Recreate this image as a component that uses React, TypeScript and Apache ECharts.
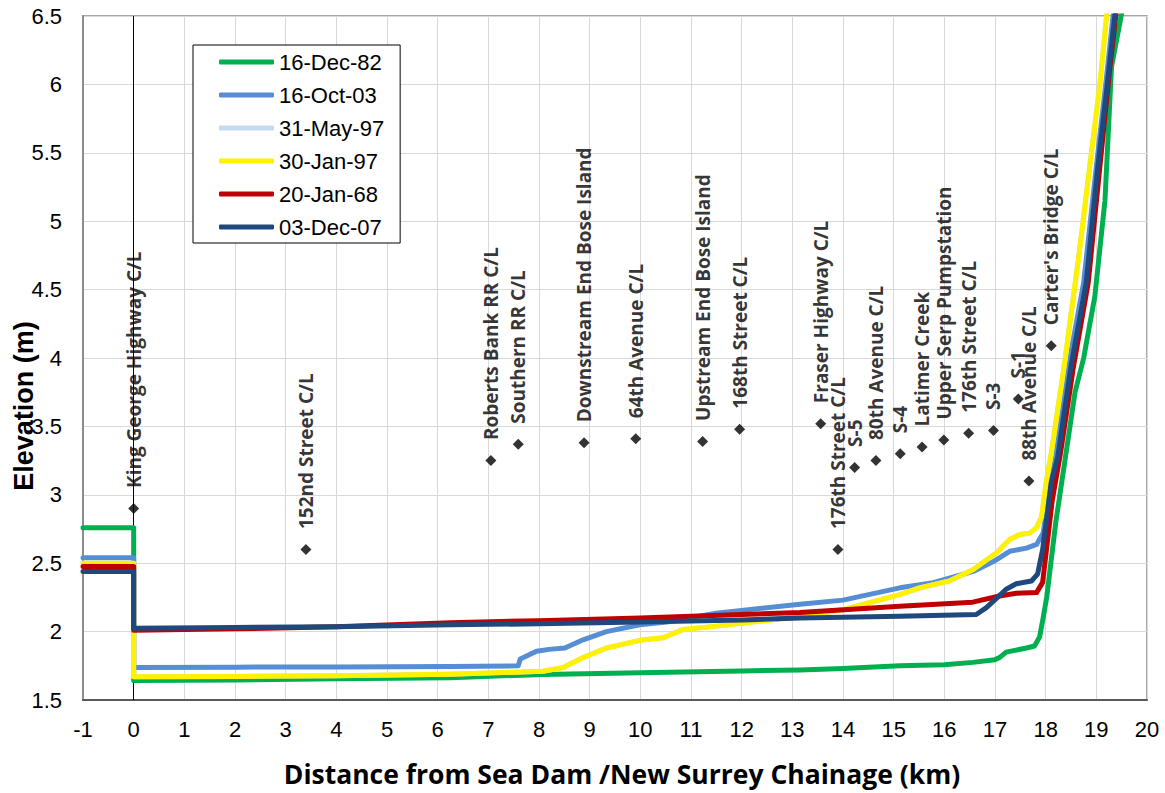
import React, { useEffect, useRef } from "react";
import * as echarts from "echarts";

// ---- Data ----
const xTicks = { min: -1, max: 20, interval: 1 };
const yTicks = { min: 1.5, max: 6.5, interval: 0.5 };

const seriesNames = ["16-Dec-82", "16-Oct-03", "31-May-97", "30-Jan-97", "20-Jan-68", "03-Dec-07"];
const seriesColors = ["#00B050", "#558ED5", "#C6D9F1", "#FFF200", "#C00000", "#1F497D"];

const dec82 = [
  [-1, 2.76], [0, 2.76], [0, 1.642], [2, 1.647], [4, 1.655], [6.25, 1.663], [8.08, 1.687], [10, 1.7],
  [12, 1.712], [13.15, 1.72], [14, 1.73], [15.12, 1.75], [16, 1.758], [16.56, 1.775], [17.0, 1.795],
  [17.09, 1.81], [17.22, 1.85], [17.62, 1.88], [17.78, 1.895], [17.88, 1.96], [17.95, 2.1], [18.02, 2.25],
  [18.2, 2.8], [18.38, 3.25], [18.58, 3.75], [18.75, 4.0], [18.97, 4.45], [19.17, 5.15], [19.3, 6.13],
  [19.49, 6.5], [19.55, 6.6],
];
const oct03 = [
  [-1, 2.54], [0, 2.54], [0, 1.737], [2, 1.74], [4, 1.742], [6.25, 1.744], [7.59, 1.75], [7.63, 1.8],
  [7.95, 1.857], [8.2, 1.87], [8.51, 1.88], [8.87, 1.94], [9.33, 2.0], [9.99, 2.05], [10.52, 2.07],
  [11.5, 2.135], [13.15, 2.2], [14, 2.23], [15.12, 2.32], [15.78, 2.357], [16.57, 2.44], [16.96, 2.51],
  [17.29, 2.587], [17.62, 2.61], [17.82, 2.637], [17.95, 2.72], [18.05, 2.965], [18.18, 3.33],
  [18.45, 3.94], [18.75, 4.55], [19.0, 5.4], [19.2, 6.05], [19.33, 6.5], [19.37, 6.6],
];
const may97 = [
  [-1, 2.5], [0, 2.5], [0, 1.67], [2, 1.672], [4, 1.677], [6.25, 1.688], [8.08, 1.71], [8.48, 1.737],
  [8.87, 1.81], [9.33, 1.88], [9.99, 1.936], [10.45, 1.955], [10.85, 2.016], [11.5, 2.04], [13.15, 2.11],
  [14, 2.16], [15.12, 2.27], [15.51, 2.32], [16.1, 2.37], [16.57, 2.454], [17.03, 2.576], [17.29, 2.673],
  [17.49, 2.71], [17.69, 2.72], [17.82, 2.76], [17.92, 2.84], [18.01, 3.09], [18.11, 3.3], [18.38, 3.98],
  [18.67, 4.79], [18.87, 5.4], [19.07, 6.0], [19.2, 6.49], [19.23, 6.6],
];
const jan97 = [
  [-1, 2.5], [0, 2.5], [0, 1.67], [2, 1.672], [4, 1.677], [6.25, 1.688], [8.08, 1.71], [8.48, 1.737],
  [8.87, 1.81], [9.33, 1.88], [9.99, 1.936], [10.45, 1.955], [10.85, 2.016], [11.5, 2.04], [13.15, 2.11],
  [14, 2.16], [15.12, 2.27], [15.51, 2.32], [16.1, 2.37], [16.57, 2.454], [17.03, 2.576], [17.29, 2.673],
  [17.49, 2.71], [17.69, 2.72], [17.82, 2.76], [17.92, 2.84], [18.01, 3.09], [18.11, 3.3], [18.38, 3.98],
  [18.67, 4.79], [18.87, 5.4], [19.07, 6.0], [19.2, 6.49], [19.23, 6.6],
];
const jan68 = [
  [-1, 2.475], [0, 2.475], [0, 2.01], [2, 2.02], [4, 2.035], [6.25, 2.065], [8, 2.08], [10, 2.1],
  [12, 2.125], [13.15, 2.14], [15.12, 2.186], [16.56, 2.215], [17.09, 2.26], [17.42, 2.28], [17.82, 2.285],
  [17.94, 2.36], [18.13, 2.96], [18.29, 3.3], [18.55, 3.94], [18.84, 4.55], [19.07, 5.4], [19.27, 6.13],
  [19.38, 6.49], [19.43, 6.6],
];
const dec07 = [
  [-1, 2.44], [0, 2.44], [0, 2.025], [2, 2.03], [4, 2.036], [6.25, 2.05], [8, 2.057], [10, 2.07],
  [12, 2.085], [13.15, 2.1], [15.12, 2.113], [16.63, 2.125], [16.83, 2.175], [17.05, 2.25], [17.22, 2.31],
  [17.42, 2.35], [17.72, 2.37], [17.84, 2.42], [17.94, 2.6], [18.11, 3.09], [18.24, 3.28], [18.5, 3.94],
  [18.8, 4.55], [19.03, 5.4], [19.22, 6.01], [19.36, 6.49], [19.4, 6.6],
];
const seriesData = [dec82, oct03, may97, jan97, jan68, dec07];

// Landmarks: [chainage km, elevation m, label]
const landmarks: [number, number, string][] = [
  [0, 2.9, "King George Highway C/L"],
  [3.4, 2.6, "152nd Street C/L"],
  [7.05, 3.25, "Roberts Bank RR C/L"],
  [7.59, 3.37, "Southern RR C/L"],
  [8.89, 3.38, "Downstream End Bose Island"],
  [9.91, 3.41, "64th Avenue C/L"],
  [11.23, 3.39, "Upstream End Bose Island"],
  [11.96, 3.48, "168th Street C/L"],
  [13.56, 3.52, "Fraser Highway C/L"],
  [13.9, 2.6, "176th Street C/L"],
  [14.23, 3.2, "S-5"],
  [14.65, 3.25, "80th Avenue C/L"],
  [15.13, 3.3, "S-4"],
  [15.56, 3.35, "Latimer Creek"],
  [15.99, 3.4, "Upper Serp Pumpstation"],
  [16.48, 3.45, "176th Street C/L"],
  [16.97, 3.47, "S-3"],
  [17.46, 3.7, "S-1"],
  [17.67, 3.1, "88th Avenue C/L"],
  [18.11, 4.09, "Carter's Bridge C/L"],
  [19.3, 3.99, "168th Street C/L"],
];
const hiddenMarker = [false, false, false, false, false, false, false, false, false, false, false,
  false, false, false, false, false, false, false, false, false, true];

const xAxisTitle = "Distance from Sea Dam /New Surrey Chainage (km)";
const yAxisTitle = "Elevation (m)";

export default function App() {
  const ref = useRef<HTMLDivElement>(null);
  useEffect(() => {
    if (!ref.current) return;
    const chart = echarts.init(ref.current, undefined, { renderer: "svg" });
    const lineSeries = seriesNames.map((name, i) => ({
      name,
      type: "line",
      data: seriesData[i],
      showSymbol: false,
      symbol: "none",
      lineStyle: { color: seriesColors[i], width: 5, cap: "round", join: "round" },
      itemStyle: { color: seriesColors[i] },
      clip: true,
      z: 2 + i,
    }));
    chart.setOption({
      animation: false,
      backgroundColor: "#ffffff",
      grid: {
        left: 83, right: 18, top: 16, bottom: 93,
        show: true, borderColor: "#8C8C8C", borderWidth: 1.5, containLabel: false,
      },
      xAxis: {
        type: "value",
        min: xTicks.min, max: xTicks.max, interval: xTicks.interval,
        axisLine: { show: true, onZero: false, lineStyle: { color: "#595959", width: 2 } },
        axisTick: { show: false },
        splitLine: { show: true, lineStyle: { color: "#D9D9D9", width: 1 } },
        axisLabel: { color: "#000", fontFamily: "Liberation Sans, Arial", fontSize: 22, margin: 18 },
        name: xAxisTitle,
        nameLocation: "middle",
        nameGap: 60,
        nameTextStyle: { color: "#000", fontFamily: "Open Sans", fontWeight: 700, fontSize: 26.5, padding: [0, 0, 0, 14] },
      },
      yAxis: {
        type: "value",
        min: yTicks.min, max: yTicks.max, interval: yTicks.interval,
        axisLine: { show: true, onZero: false, lineStyle: { color: "#8C8C8C", width: 2 } },
        axisTick: { show: false },
        splitLine: { show: true, lineStyle: { color: "#D9D9D9", width: 1 } },
        axisLabel: { color: "#000", fontFamily: "Liberation Sans, Arial", fontSize: 22, margin: 21 },
      },
      legend: {
        show: true,
        orient: "vertical",
        left: 193, top: 45,
        padding: [6, 16, 5, 26],
        itemGap: 11,
        itemWidth: 55,
        itemHeight: 5,
        icon: "roundRect",
        backgroundColor: "#ffffff",
        borderColor: "#000000",
        borderWidth: 1,
        borderRadius: 0,
        textStyle: { color: "#000", fontFamily: "Liberation Sans, Arial", fontSize: 22 },
        data: seriesNames,
      },
      graphic: [
        {
          type: "text",
          x: 24, y: 406,
          rotation: Math.PI / 2,
          style: {
            text: yAxisTitle,
            fill: "#000",
            font: "bold 27px 'Liberation Sans', Arial",
            align: "center",
            verticalAlign: "middle",
          },
          z: 100,
        },
      ],
      series: [
        ...lineSeries,
        {
          name: "landmarks",
          type: "scatter",
          z: 20,
          symbol: "diamond",
          symbolSize: 11,
          itemStyle: { color: "#000" },
          data: landmarks.map((d, i) => ({
            value: [d[0], d[1]],
            name: d[2],
            itemStyle: hiddenMarker[i] ? { opacity: 0 } : undefined,
          })),
          label: {
            show: true,
            formatter: (p: any) => p.name,
            position: "top",
            distance: 15,
            rotate: 90,
            align: "left",
            verticalAlign: "middle",
            color: "#000",
            fontFamily: "Open Sans",
            fontWeight: 700,
            fontSize: 19,
          },
          markLine: {
            silent: true,
            symbol: "none",
            label: { show: false },
            lineStyle: { color: "#000", width: 1, type: "solid" },
            data: [{ xAxis: 0 }],
            z: 1,
          },
        },
      ],
    });
    return () => chart.dispose();
  }, []);
  return (
    <div
      ref={ref}
      style={{ position: "fixed", left: 0, top: 0, width: 1165, height: 793, background: "#fff" }}
    />
  );
}
